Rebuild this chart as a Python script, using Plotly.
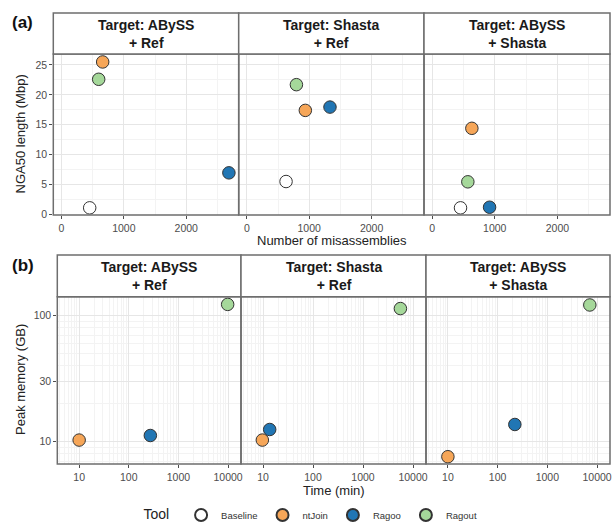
import plotly.graph_objects as go

W, H = 613, 524

tools = ["Baseline", "ntJoin", "Ragoo", "Ragout"]
tool_colors = ["#FFFFFF", "#F6A658", "#2176B4", "#A5D89A"]
targets = ["Target: ABySS<br>+ Ref", "Target: Shasta<br>+ Ref", "Target: ABySS<br>+ Shasta"]

# Panel (a): misassemblies vs NGA50 (per target, tool order as `tools`)
misassemblies = [
    [453, 661, 2683, 597],
    [629, 938, 1333, 795],
    [453, 634, 917, 570],
]
nga50 = [
    [1.1, 25.5, 6.95, 22.6],
    [5.5, 17.4, 17.95, 21.7],
    [1.1, 14.4, 1.2, 5.45],
]
# Panel (b): time vs peak memory (Baseline not shown)
time_min = [
    [None, 10, 272, 9800],
    [None, 9.7, 13.6, 5600],
    [None, 10, 222, 7150],
]
peak_mem = [
    [None, 10.3, 11.2, 123],
    [None, 10.3, 12.5, 114],
    [None, 7.6, 13.7, 121.7],
]

xa_ticks = [0, 1000, 2000]
ya_ticks = [0, 5, 10, 15, 20, 25]
xb_ticks = [10, 100, 1000, 10000]
yb_ticks = [10, 30, 100]

def px_x(p):
    return p / W

def px_y(p):
    return 1 - p / H

cols_a = [(53.3, 238.7), (238.7, 424.0), (424.0, 610.0)]
cols_b = [(57.3, 241.0), (241.0, 426.0), (426.0, 610.0)]
row_a = (54.0, 215.0)
row_b = (296.7, 464.0)
strip_a = (13.0, 54.0)
strip_b = (255.0, 296.7)

BORDER = "#6e6e6e"
GRID = "#e6e6e6"
MINOR = "#f3f3f3"
TICKC = "#4d4d4d"
FONT = "Liberation Sans"

fig = go.Figure()
layout = dict(
    width=W, height=H, autosize=False,
    margin=dict(l=0, r=0, t=0, b=0, autoexpand=False),
    paper_bgcolor="white", plot_bgcolor="white",
    font=dict(family=FONT, color="#222"),
    showlegend=True,
    shapes=[], annotations=[],
)

def add_axes(i, xdom, ydom, row):
    xn = "xaxis" if i == 0 else f"xaxis{i+1}"
    yn = "yaxis" if i == 0 else f"yaxis{i+1}"
    yref = "y" if i == 0 else f"y{i+1}"
    xref = "x" if i == 0 else f"x{i+1}"
    first = (i % 3 == 0)
    common = dict(showline=False, ticklen=3, tickcolor=TICKC, automargin=False,
                  tickfont=dict(size=10.5, color=TICKC, family=FONT),
                  showgrid=True, gridcolor=GRID, gridwidth=1, zeroline=False)
    if row == 0:
        xa = dict(common, ticks="outside", domain=[px_x(xdom[0]), px_x(xdom[1])], range=[-130, 2840],
                  tickvals=xa_ticks, ticktext=[str(v) for v in xa_ticks],
                  minor=dict(tickvals=[500, 1500, 2500], showgrid=True, gridcolor=MINOR),
                  anchor=yref)
        ya = dict(common, ticks="outside" if first else "",
                  domain=[px_y(ydom[1]), px_y(ydom[0])], range=[-0.1, 26.83],
                  tickvals=ya_ticks, ticktext=[str(v) for v in ya_ticks],
                  minor=dict(tickvals=[2.5, 7.5, 12.5, 17.5, 22.5], showgrid=True, gridcolor=MINOR),
                  anchor=xref, showticklabels=first)
    else:
        xa = dict(common, ticks="outside", type="log", domain=[px_x(xdom[0]), px_x(xdom[1])], range=[0.56, 4.26],
                  tickvals=xb_ticks, ticktext=[str(v) for v in xb_ticks],
                  minor=dict(dtick="D1", showgrid=True, gridcolor=MINOR),
                  anchor=yref)
        ya = dict(common, ticks="outside" if first else "", type="log",
                  domain=[px_y(ydom[1]), px_y(ydom[0])], range=[0.823, 2.151],
                  tickvals=yb_ticks, ticktext=[str(v) for v in yb_ticks],
                  minor=dict(dtick="D1", showgrid=True, gridcolor=MINOR),
                  anchor=xref, showticklabels=first)
    layout[xn] = xa
    layout[yn] = ya
    layout["shapes"].append(dict(type="rect", xref="paper", yref="paper", layer="above",
                                 x0=px_x(xdom[0]), x1=px_x(xdom[1]),
                                 y0=px_y(ydom[1]), y1=px_y(ydom[0]),
                                 fillcolor="rgba(0,0,0,0)", line=dict(color=BORDER, width=1.5)))
    return xref, yref

for r, (cols, rowy, strip, xs, ys) in enumerate([
        (cols_a, row_a, strip_a, misassemblies, nga50),
        (cols_b, row_b, strip_b, time_min, peak_mem)]):
    for c in range(3):
        i = r * 3 + c
        xref, yref = add_axes(i, cols[c], rowy, r)
        layout["shapes"].append(dict(type="rect", xref="paper", yref="paper",
                                     x0=px_x(cols[c][0]), x1=px_x(cols[c][1]),
                                     y0=px_y(strip[1]), y1=px_y(strip[0]),
                                     fillcolor="white", line=dict(color=BORDER, width=1.5)))
        layout["annotations"].append(dict(xref="paper", yref="paper",
                                          x=px_x((cols[c][0] + cols[c][1]) / 2),
                                          y=px_y((strip[0] + strip[1]) / 2),
                                          text=f"<b>{targets[c]}</b>", showarrow=False,
                                          font=dict(size=14, color="#1a1a1a", family=FONT),
                                          xanchor="center", yanchor="middle"))
        for t, tool in enumerate(tools):
            xv, yv = xs[c][t], ys[c][t]
            if xv is None:
                xv, yv = [], []
            else:
                xv, yv = [xv], [yv]
            fig.add_trace(go.Scatter(
                x=xv, y=yv, mode="markers", name=tool, legendgroup=tool,
                showlegend=(i == 0), xaxis=xref, yaxis=yref,
                marker=dict(size=12.5, color=tool_colors[t],
                            line=dict(color="#333333", width=1))))

ann = layout["annotations"]
ann.append(dict(xref="paper", yref="paper", x=px_x(331.7), y=px_y(241), text="Number of misassemblies",
                showarrow=False, font=dict(size=13, color="#222"), xanchor="center", yanchor="middle"))
ann.append(dict(xref="paper", yref="paper", x=px_x(333.5), y=px_y(490), text="Time (min)",
                showarrow=False, font=dict(size=13, color="#222"), xanchor="center", yanchor="middle"))
ann.append(dict(xref="paper", yref="paper", x=px_x(20), y=px_y(134.5), text="NGA50 length (Mbp)",
                textangle=-90, showarrow=False, font=dict(size=13, color="#222"),
                xanchor="center", yanchor="middle"))
ann.append(dict(xref="paper", yref="paper", x=px_x(20), y=px_y(380), text="Peak memory (GB)",
                textangle=-90, showarrow=False, font=dict(size=13, color="#222"),
                xanchor="center", yanchor="middle"))
ann.append(dict(xref="paper", yref="paper", x=px_x(10), y=px_y(22), text="<b>(a)</b>",
                showarrow=False, font=dict(size=17, color="#111"), xanchor="left", yanchor="middle"))
ann.append(dict(xref="paper", yref="paper", x=px_x(10), y=px_y(265), text="<b>(b)</b>",
                showarrow=False, font=dict(size=17, color="#111"), xanchor="left", yanchor="middle"))

layout["legend"] = dict(orientation="h", x=px_x(312), xanchor="center", y=px_y(515), yanchor="middle",
                        title=dict(text="Tool ", font=dict(size=14, color="#222"), side="left"),
                        font=dict(size=9.5, color="#333"), itemsizing="constant",
                        bgcolor="rgba(0,0,0,0)", tracegroupgap=0, itemwidth=30)

fig.update_layout(**layout)
fig.write_html("out.html", config={"displayModeBar": False},
               post_script="document.body.style.margin='0';document.body.style.overflow='hidden';")
